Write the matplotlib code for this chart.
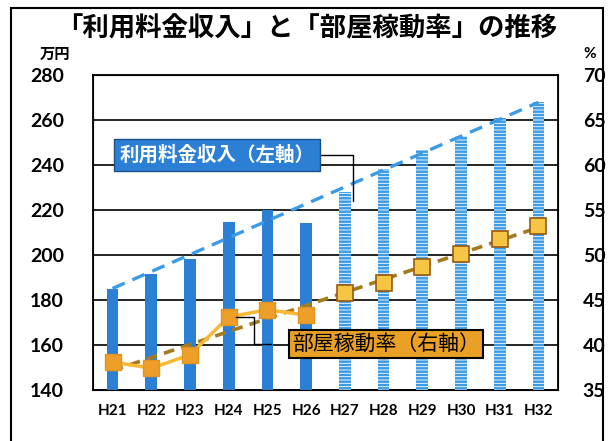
import matplotlib.pyplot as plt
import matplotlib.patches as patches
import numpy as np

plt.rcParams['font.family'] = ['Noto Sans CJK JP', 'DejaVu Sans']

years = ['H21', 'H22', 'H23', 'H24', 'H25', 'H26',
         'H27', 'H28', 'H29', 'H30', 'H31', 'H32']
revenue = [185, 191.5, 198, 214.5, 220, 214, 228, 238, 246.5, 253, 261, 268]   # 万円
occupancy = [38.1, 37.4, 38.9, 43.1, 43.9, 43.3, 45.8, 46.9, 48.7, 50.1, 51.8, 53.2]  # %
n_actual = 6  # H21-H26 実績, 以降は見込み

x = np.arange(len(years))
xa, xp = x[:n_actual], x[n_actual:]

fig = plt.figure(figsize=(6.13, 4.41), dpi=100)
ax = fig.add_axes([0.152, 0.116, 0.758, 0.714])
ax2 = ax.twinx()

# 棒グラフ（左軸）
ax.bar(xa, revenue[:n_actual], width=0.3, color='#2b7fd4', zorder=3)
plt.rcParams['hatch.linewidth'] = 1.8
ax.bar(xp, revenue[n_actual:], width=0.3, facecolor='white', edgecolor='#3c9be6',
       hatch='-----', linewidth=0, zorder=3)

# 近似直線（利用料金）
k, b = np.polyfit(x, revenue, 1)
ax.plot(x, k * x + b, color='#3c9be6', lw=2.4, dashes=(4, 2.5), zorder=4)

ax.set_xlim(-0.5, len(years) - 0.5)
ax.set_ylim(140, 280)
ax.set_yticks(range(140, 281, 20))
ax.grid(axis='y', color='black', lw=1.2, zorder=0)
ax.set_axisbelow(True)
ax.set_xticks(x)
ax.set_xticklabels(years, fontsize=11, fontweight='bold', family='Lato')
ax.tick_params(axis='both', length=0, pad=10)
ax.tick_params(axis='y', labelsize=14, pad=21)
for t in ax.get_yticklabels():
    t.set_fontweight('bold')
    t.set_family('Lato')
for s in ax.spines.values():
    s.set_linewidth(1.3)

# 部屋稼動率（右軸）
ax2.set_ylim(35, 70)
ax2.set_yticks(range(35, 71, 5))
ax2.tick_params(axis='y', length=0, labelsize=14, pad=18)
for t in ax2.get_yticklabels():
    t.set_fontweight('bold')
    t.set_family('Lato')

k2, b2 = np.polyfit(x, occupancy, 1)
ax2.plot(x, k2 * x + b2, color='#a57a1e', lw=2.6, dashes=(3, 2), zorder=3)
ax2.plot(xa, occupancy[:n_actual], color='#f7b834', lw=2.5, marker='s', ms=11,
         mfc='#ee9f2a', mec='#e39422', zorder=4)
ax2.plot(xp, occupancy[n_actual:], ls='none', marker='s', ms=11,
         mfc='#f6c544', mec='#9a5a10', mew=1.2, zorder=4)

# 凡例ボックス
ax2.annotate('利用料金収入（左軸）', xy=(n_actual + 0.2, 34 + (revenue[n_actual] - 140) / 4),
             xytext=(2.7, 34 + (248.4 - 140) / 4), ha='center', va='center',
             color='white', fontsize=14, fontweight='bold',
             bbox=dict(boxstyle='square,pad=0.3', fc='#2b7fd4', ec='#1a4f8a', lw=1),
             arrowprops=dict(arrowstyle='-', color='black', lw=1,
                             connectionstyle='angle,angleA=0,angleB=90,rad=0',
                             shrinkA=0, shrinkB=0),
             zorder=6)
ax2.text(7.06, 40.1, '部屋稼動率（右軸）', ha='center', va='center', fontsize=15,
         color='black', zorder=6,
         bbox=dict(boxstyle='square,pad=0.15', fc='#e9a024', ec='black', lw=1.5))
ax2.plot([3.2, 3.65, 3.65, 4.1], [occupancy[3], occupancy[3], 40.15, 40.15],
         color='black', lw=1, zorder=5)

fig.text(0.5, 0.935, '「利用料金収入」と「部屋稼動率」の推移', ha='center', va='center',
         fontsize=19, fontweight='bold')
fig.text(0.065, 0.878, '万円', fontsize=11, fontweight='bold', va='center')
fig.text(0.952, 0.878, '%', fontsize=11, fontweight='bold', va='center', family='Lato')

fig.patches.append(patches.Rectangle((0.018, -0.05), 0.965, 1.032, transform=fig.transFigure,
                                     fill=False, ec='black', lw=1.5))

fig.savefig('out.png', dpi=100)
